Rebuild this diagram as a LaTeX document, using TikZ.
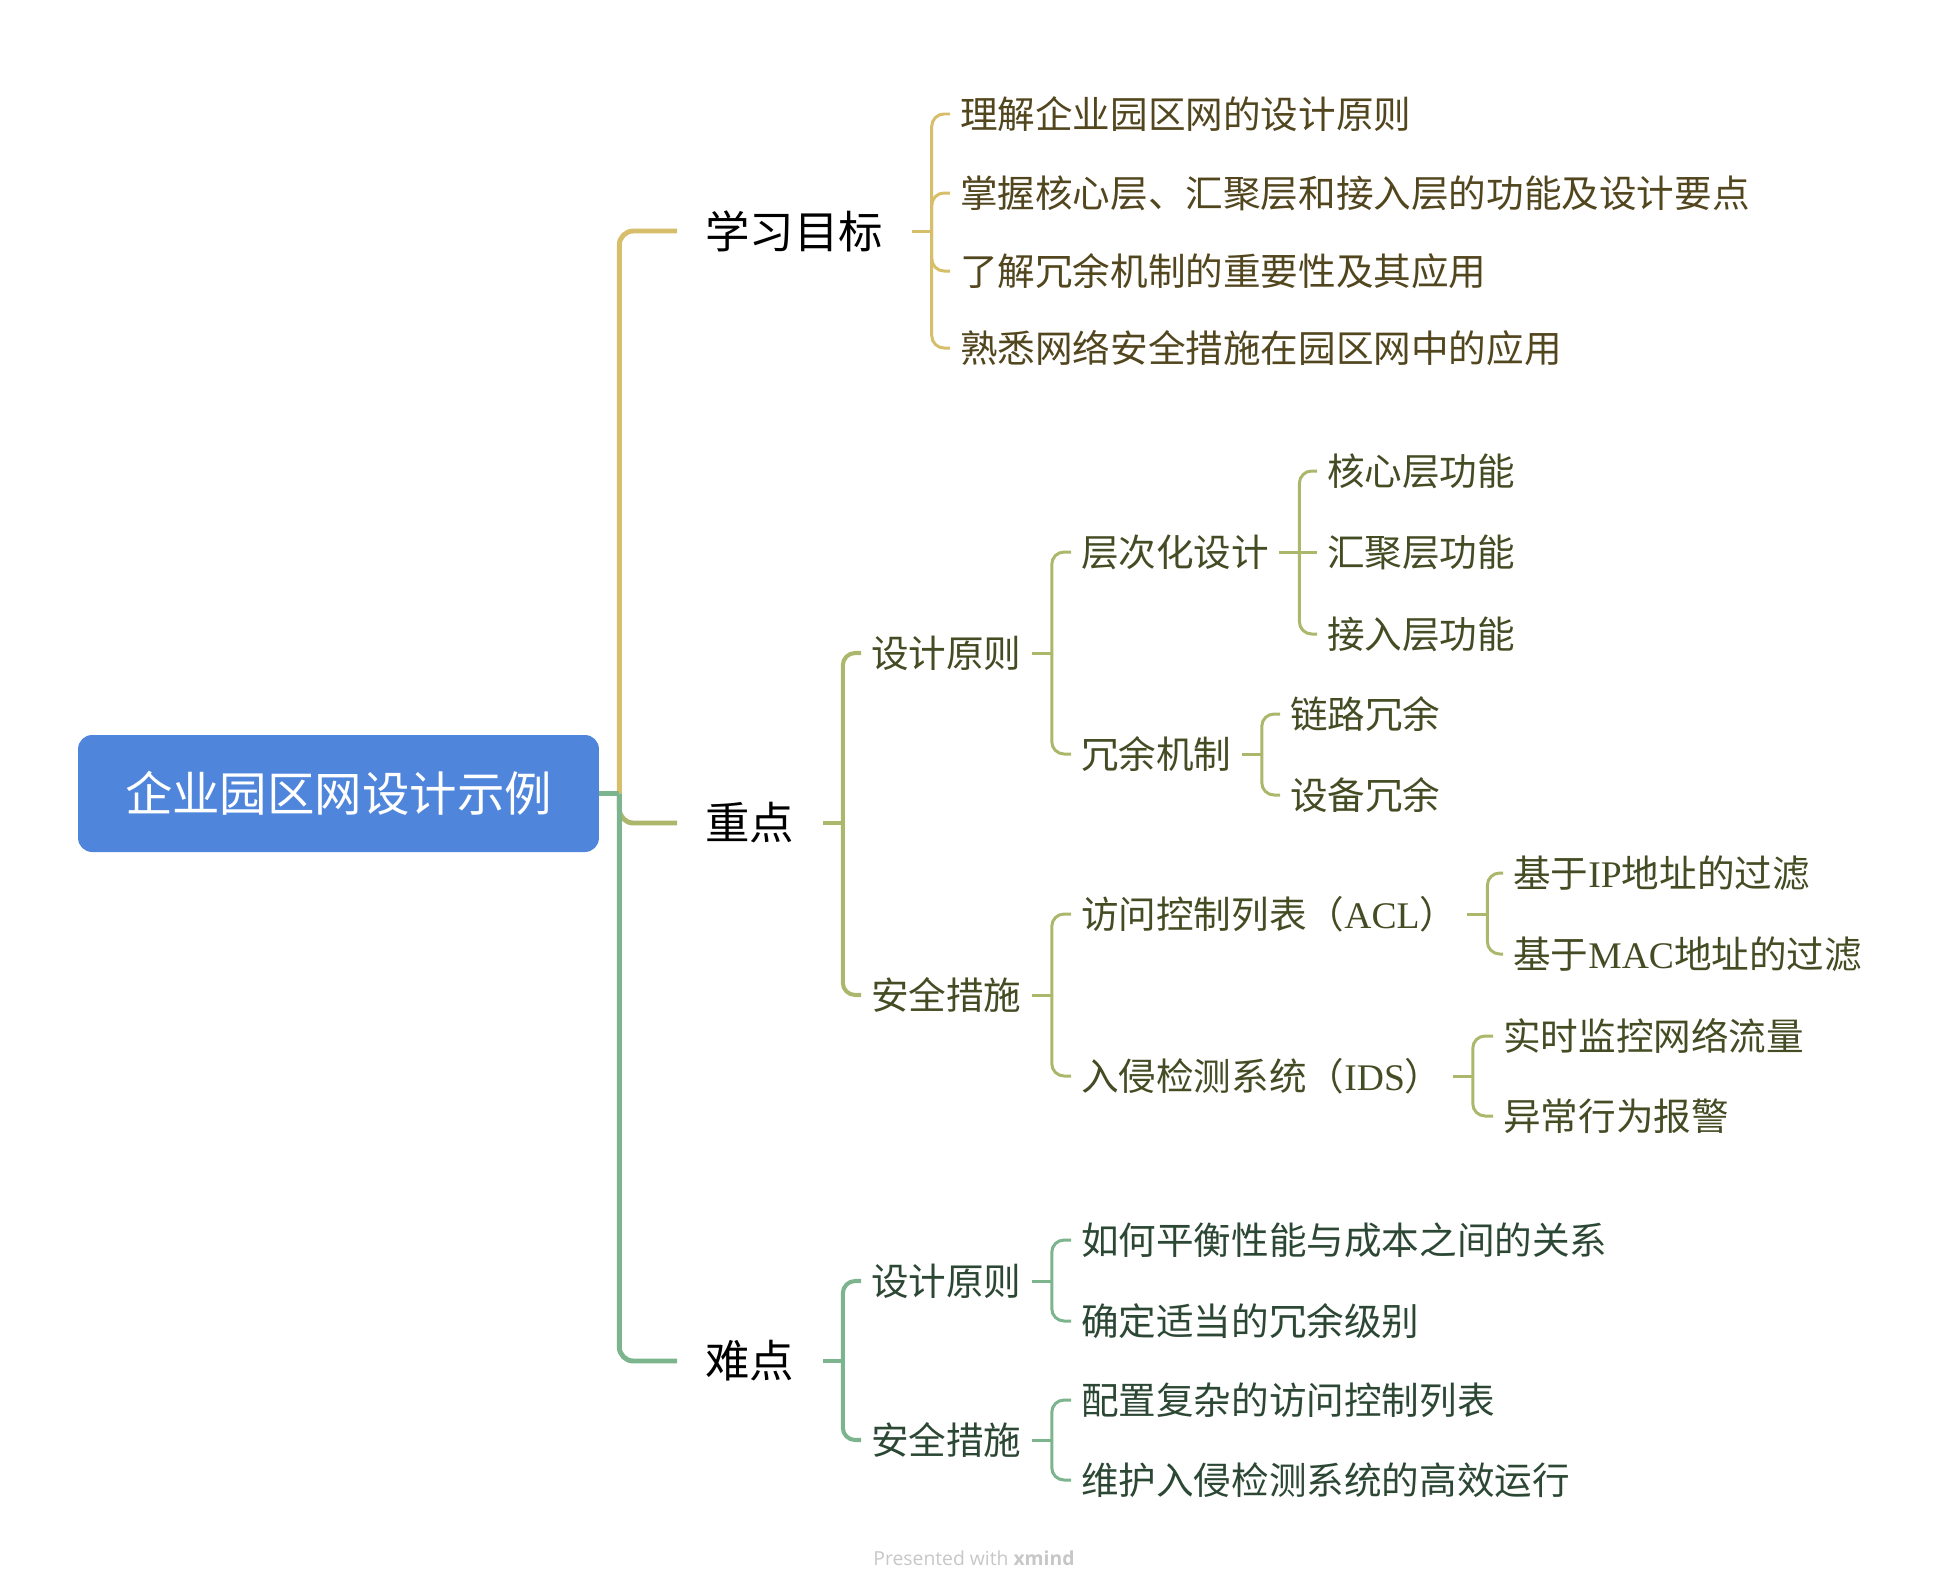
\documentclass[tikz,border=0pt]{standalone}
\usepackage{fontspec}
\setmainfont{Noto Sans CJK SC}
\newfontfamily\latinserif{Liberation Serif}
\newfontfamily\markfont{Open Sans}
\usepackage{tikz}
\usetikzlibrary{positioning, calc}
\definecolor{rootblue}{RGB}{79,134,220}
\definecolor{linegold}{RGB}{214,190,107}
\definecolor{lineolive}{RGB}{172,183,108}
\definecolor{linegreen}{RGB}{124,181,141}
\definecolor{textgold}{RGB}{82,70,30}
\definecolor{textolive}{RGB}{68,76,36}
\definecolor{textgreen}{RGB}{44,72,52}

% stub from parent, then one rounded elbow per child
\newcommand{\branchto}[3]{%
  \draw[#1] (#2.east) -- ++(20,0) coordinate (#2-j);
  \foreach \c in {#3} \draw[#1, rounded corners=7pt] (#2-j) |- (\c.west);
}
\newcommand{\lat}[1]{{\latinserif #1}}

\begin{document}
\begin{tikzpicture}[
  x=0.02cm, y=-0.02cm,
  main/.style={rectangle, rounded corners=8pt, fill=rootblue, text=white,
               minimum width=10.42cm, minimum height=2.34cm, inner sep=0pt,
               font=\fontsize{27}{32}\selectfont},
  topic/.style={anchor=west, inner xsep=16pt, inner ysep=2pt, text=black,
                font=\fontsize{25.3}{30}\selectfont},
  sub/.style={anchor=west, inner xsep=5.6pt, inner ysep=2pt, text=#1,
              font=\fontsize{21.4}{25}\selectfont},
  trunk/.style={draw=#1, line width=2.8pt},
  mid/.style={draw=#1, line width=2.3pt},
  twig/.style={draw=#1, line width=1.7pt},
]
  \useasboundingbox (0,0) rectangle (1948,1593);

  \node[main] (root) at (338.5,793.5) {企业园区网设计示例};

  \node[topic] (goal) at (677,231)  {学习目标};
  \node[topic] (key)  at (677,823)  {重点};
  \node[topic] (hard) at (677,1361) {难点};

  % 学习目标
  \node[sub=textgold] (g1) at (950,114) {理解企业园区网的设计原则};
  \node[sub=textgold] (g2) at (950,193) {掌握核心层、汇聚层和接入层的功能及设计要点};
  \node[sub=textgold] (g3) at (950,271) {了解冗余机制的重要性及其应用};
  \node[sub=textgold] (g4) at (950,348) {熟悉网络安全措施在园区网中的应用};

  % 重点
  \node[sub=textolive] (kd) at (861,653) {设计原则};
  \node[sub=textolive] (ks) at (861,995) {安全措施};
  \node[sub=textolive] (layer)  at (1071,552) {层次化设计};
  \node[sub=textolive] (redund) at (1071,754) {冗余机制};
  \node[sub=textolive] (core)   at (1317,471) {核心层功能};
  \node[sub=textolive] (dist)   at (1317,552) {汇聚层功能};
  \node[sub=textolive] (access) at (1317,634) {接入层功能};
  \node[sub=textolive] (link)   at (1280,714) {链路冗余};
  \node[sub=textolive] (dev)    at (1280,795) {设备冗余};
  \node[sub=textolive] (acl) at (1071,914)  {访问控制列表（\lat{ACL}）};
  \node[sub=textolive] (ids) at (1071,1076) {入侵检测系统（\lat{IDS}）};
  \node[sub=textolive] (ipf)  at (1503,873)  {基于\lat{IP}地址的过滤};
  \node[sub=textolive] (macf) at (1503,954)  {基于\lat{MAC}地址的过滤};
  \node[sub=textolive] (mon)  at (1493,1036) {实时监控网络流量};
  \node[sub=textolive] (alarm) at (1493,1116) {异常行为报警};

  % 难点
  \node[sub=textgreen] (hd) at (861,1281) {设计原则};
  \node[sub=textgreen] (hs) at (861,1440) {安全措施};
  \node[sub=textgreen] (cost)  at (1071,1240) {如何平衡性能与成本之间的关系};
  \node[sub=textgreen] (level) at (1071,1321) {确定适当的冗余级别};
  \node[sub=textgreen] (cfg)   at (1071,1400) {配置复杂的访问控制列表};
  \node[sub=textgreen] (keep)  at (1071,1480) {维护入侵检测系统的高效运行};

  % trunk
  \draw[trunk=linegold] (root.east) -- ++(20,0) coordinate (root-j);
  \foreach \c/\col in {goal/linegold, key/lineolive, hard/linegreen}
    \draw[trunk=\col, rounded corners=8pt] (root-j) |- (\c.west);
  \draw[trunk=linegreen] (root.east) -- (root-j);

  \branchto{twig=linegold}{goal}{g1,g2,g3,g4}
  \branchto{mid=lineolive}{key}{kd,ks}
  \branchto{twig=lineolive}{kd}{layer,redund}
  \branchto{twig=lineolive}{layer}{core,access}
  \draw[twig=lineolive] (layer-j) -- (dist.west);
  \branchto{twig=lineolive}{redund}{link,dev}
  \branchto{twig=lineolive}{ks}{acl,ids}
  \branchto{twig=lineolive}{acl}{ipf,macf}
  \branchto{twig=lineolive}{ids}{mon,alarm}
  \branchto{mid=linegreen}{hard}{hd,hs}
  \branchto{twig=linegreen}{hd}{cost,level}
  \branchto{twig=linegreen}{hs}{cfg,keep}

  \node[font=\markfont\fontsize{11}{13}\selectfont, text=black!22] (mark) at (974,1558)
    {Presented with \textbf{xmind}};
\end{tikzpicture}
\end{document}
